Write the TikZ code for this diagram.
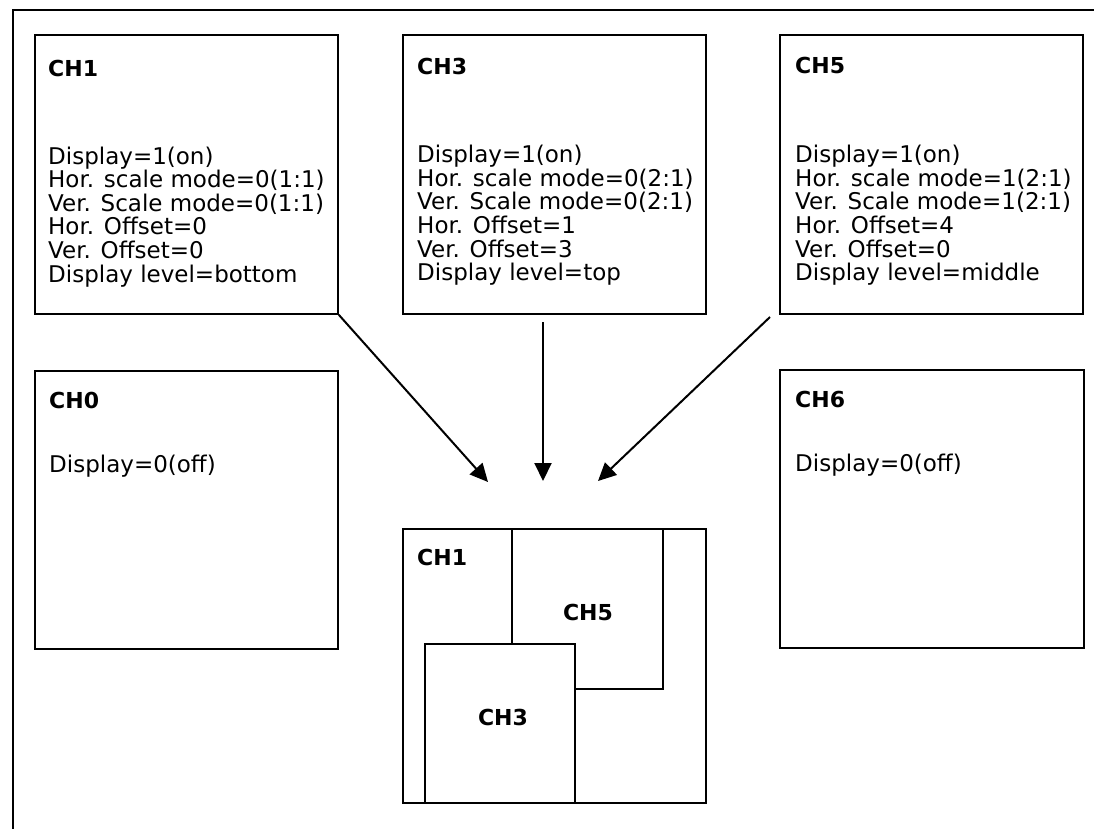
\documentclass[tikz,border=0pt]{standalone}
\usepackage{fontspec}
\setmainfont{DejaVu Sans}
\usetikzlibrary{arrows.meta}
\tikzset{
  chbox/.style={draw=black, line width=1.8pt, fill=white, rectangle, inner sep=0pt, anchor=north west},
  ttl/.style={font=\fontsize{22}{24}\selectfont\bfseries, inner sep=0pt, anchor=base west},
  bodytxt/.style={font=\fontsize{23}{23.6}\selectfont, inner sep=0pt, anchor=north west, align=left},
  lbl/.style={font=\fontsize{22}{24}\selectfont\bfseries, inner sep=0pt},
  conn/.style={line width=2pt, -{Triangle[length=18pt,width=17pt]}}
}
\begin{document}
\begin{tikzpicture}[x=1pt,y=-1pt]
\useasboundingbox (0,0) rectangle (1094,829);
% outer frame (top and left edges)
\draw[line width=2pt] (1094,10) -- (13,10) -- (13,829);

% top row
\node[chbox, minimum width=303pt, minimum height=279pt] (ch1) at (34,34) {};
\node[ttl] (ch1t) at (48,77) {CH1};
\node[bodytxt] (ch1b) at (48,146.5) {Display=1(on)\\Hor. scale mode=0(1:1)\\Ver. Scale mode=0(1:1)\\Hor. Offset=0\\Ver. Offset=0\\Display level=bottom};

\node[chbox, minimum width=303pt, minimum height=279pt] (ch3) at (402,34) {};
\node[ttl] (ch3t) at (417,75) {CH3};
\node[bodytxt] (ch3b) at (417,145) {Display=1(on)\\Hor. scale mode=0(2:1)\\Ver. Scale mode=0(2:1)\\Hor. Offset=1\\Ver. Offset=3\\Display level=top};

\node[chbox, minimum width=303pt, minimum height=279pt] (ch5) at (779,34) {};
\node[ttl] (ch5t) at (795,74) {CH5};
\node[bodytxt] (ch5b) at (795,145) {Display=1(on)\\Hor. scale mode=1(2:1)\\Ver. Scale mode=1(2:1)\\Hor. Offset=4\\Ver. Offset=0\\Display level=middle};

% second row
\node[chbox, minimum width=303pt, minimum height=278pt] (ch0) at (34,370) {};
\node[ttl] (ch0t) at (49,408) {CH0};
\node[bodytxt] (ch0b) at (49,454.5) {Display=0(off)};

\node[chbox, minimum width=304pt, minimum height=278pt] (ch6) at (779,369) {};
\node[ttl] (ch6t) at (795,407) {CH6};
\node[bodytxt] (ch6b) at (795,453.5) {Display=0(off)};

% composite display
\node[chbox, minimum width=303pt, minimum height=274pt] (scr) at (402,528) {};
\node[lbl, anchor=base west] (scr1) at (417,565) {CH1};
\node[chbox, minimum width=151pt, minimum height=160pt] (w5) at (511,528) {};
\node[lbl] (w5l) at (588,612) {CH5};
\node[chbox, minimum width=150pt, minimum height=159pt] (w3) at (424,643) {};
\node[lbl] (w3l) at (503,717) {CH3};

% arrows
\coordinate (a1e) at (488,482);
\coordinate (a3s) at (543,322);
\coordinate (a3e) at (543,481);
\coordinate (a5s) at (770,317);
\coordinate (a5e) at (598,481);
\draw[conn] (ch1.south east) -- (a1e);
\draw[conn] (a3s) -- (a3e);
\draw[conn] (a5s) -- (a5e);
\end{tikzpicture}
\end{document}
